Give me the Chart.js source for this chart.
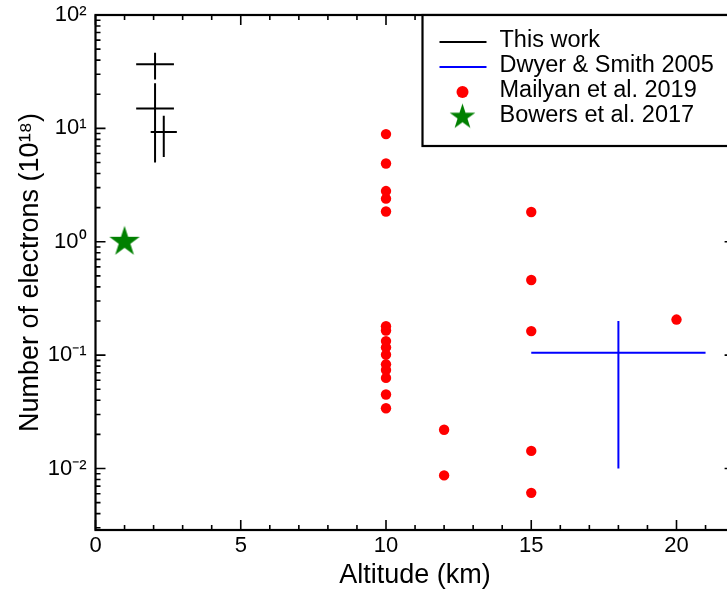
<!DOCTYPE html>
<html>
<head>
<meta charset="utf-8">
<script src="https://cdn.jsdelivr.net/npm/chart.js@4.4.0/dist/chart.umd.min.js"></script>
<style>
  html, body { margin: 0; padding: 0; background: #fff; overflow: hidden; }
  #chart { display: block; }
</style>
</head>
<body>
<canvas id="chart" width="745" height="593"></canvas>
<script>
// This work: centres and error bar ends
const thisX = [2.05, 2.05, 2.35];
const thisY = [36.7, 15, 9.3];
const thisXLo = [1.4, 1.4, 1.9];
const thisXHi = [2.7, 2.7, 2.8];
const thisYLo = [27, 5, 5.6];
const thisYHi = [46.5, 25, 12.9];

// Dwyer & Smith 2005
const dwyerX = [18];
const dwyerY = [0.105];
const dwyerXLo = [15];
const dwyerXHi = [21];
const dwyerYLo = [0.01];
const dwyerYHi = [0.2];

// Mailyan et al. 2019
const mailyanX = [10, 10, 10, 10, 10, 10, 10, 10, 10, 10, 10, 10, 10, 10, 10, 12, 12, 15, 15, 15, 15, 15, 20];
const mailyanY = [8.9, 4.9, 2.8, 2.4, 1.85, 0.18, 0.165, 0.133, 0.117, 0.101, 0.083, 0.074, 0.063, 0.045, 0.034,
                  0.022, 0.0087, 1.83, 0.46, 0.163, 0.0143, 0.0061, 0.206];

// Bowers et al. 2017
const bowersX = [1];
const bowersY = [1];

const xTicks = [0, 5, 10, 15, 20];
const yTicks = [1e-2, 1e-1, 1, 10, 100];
const yTickLabels = ['10⁻²', '10⁻¹', '10⁰', '10¹', '10²'];

const FONT = "'Liberation Sans', Arial, Helvetica, sans-serif";
Chart.defaults.font.family = FONT;
Chart.defaults.color = '#000';

function crossSegments(xs, ys, xlo, xhi, ylo, yhi) {
  const pts = [];
  for (let i = 0; i < xs.length; i++) {
    pts.push({x: xlo[i], y: ys[i]}, {x: xhi[i], y: ys[i]}, {x: null, y: null});
    pts.push({x: xs[i], y: ylo[i]}, {x: xs[i], y: yhi[i]}, {x: null, y: null});
  }
  return pts;
}

function makeStar(r, color) {
  const c = document.createElement('canvas');
  const s = Math.ceil(r * 2) + 2;
  c.width = s; c.height = s;
  const g = c.getContext('2d');
  g.fillStyle = color;
  g.beginPath();
  for (let k = 0; k < 10; k++) {
    const rad = k % 2 === 0 ? r : r * 0.382;
    const a = -Math.PI / 2 + k * Math.PI / 5;
    const px = s / 2 + rad * Math.cos(a), py = s / 2 + rad * Math.sin(a);
    if (k === 0) g.moveTo(px, py); else g.lineTo(px, py);
  }
  g.closePath();
  g.fill();
  return c;
}

const starBig = makeStar(16, '#008000');
const starSmall = makeStar(13.5, '#008000');

// inward ticks on every side + frame
const frameTicks = {
  id: 'frameTicks',
  afterDatasetsDraw(chart) {
    const {ctx, chartArea: a, scales: {x, y}} = chart;
    ctx.save();
    ctx.strokeStyle = '#000';
    ctx.lineWidth = 1.6;
    ctx.beginPath();
    for (let v = Math.ceil(x.min); v <= x.max; v++) {
      const px = x.getPixelForValue(v);
      const len = v % 5 === 0 ? 10 : 5;
      ctx.moveTo(px, a.bottom); ctx.lineTo(px, a.bottom - len);
      ctx.moveTo(px, a.top); ctx.lineTo(px, a.top + len);
    }
    for (let e = -3; e <= 2; e++) {
      for (let m = 1; m <= 9; m++) {
        const v = m * Math.pow(10, e);
        if (v < y.min || v > y.max * 1.0001) continue;
        const py = y.getPixelForValue(v);
        const len = m === 1 ? 10 : 5;
        ctx.moveTo(a.left, py); ctx.lineTo(a.left + len, py);
        ctx.moveTo(a.right, py); ctx.lineTo(a.right - len, py);
      }
    }
    ctx.stroke();
    ctx.lineWidth = 2.2;
    ctx.strokeRect(a.left, a.top, a.right - a.left, a.bottom - a.top);
    ctx.restore();
  }
};

// boxed legend in the upper right corner of the plot
const boxLegend = {
  id: 'boxLegend',
  afterDraw(chart) {
    const {ctx, chartArea: a} = chart;
    const x0 = a.left + 327, y0 = a.top, h = 131;
    ctx.save();
    ctx.fillStyle = '#fff';
    ctx.fillRect(x0, y0, a.right - x0 + 20, h);
    ctx.strokeStyle = '#000';
    ctx.lineWidth = 2.2;
    ctx.strokeRect(x0, y0, a.right - x0 + 20, h);
    ctx.font = '23.5px ' + FONT;
    ctx.textBaseline = 'middle';
    ctx.textAlign = 'left';
    chart.data.datasets.forEach((ds, i) => {
      const cy = y0 + 27 + i * 25;
      if (ds.showLine) {
        ctx.strokeStyle = ds.borderColor;
        ctx.lineWidth = 2;
        ctx.beginPath();
        ctx.moveTo(x0 + 17, cy); ctx.lineTo(x0 + 64, cy);
        ctx.stroke();
      } else if (ds.pointStyle === 'circle') {
        ctx.fillStyle = ds.backgroundColor;
        ctx.beginPath();
        ctx.arc(x0 + 40, cy, 6, 0, Math.PI * 2);
        ctx.fill();
      } else {
        ctx.drawImage(starSmall, x0 + 40 - starSmall.width / 2, cy - starSmall.height / 2);
      }
      ctx.fillStyle = '#000';
      ctx.fillText(ds.label, x0 + 77, cy - 1);
    });
    ctx.restore();
  }
};

new Chart(document.getElementById('chart'), {
  type: 'scatter',
  data: {
    datasets: [
      {
        label: 'This work',
        data: crossSegments(thisX, thisY, thisXLo, thisXHi, thisYLo, thisYHi),
        showLine: true, borderColor: '#000', borderWidth: 2, pointRadius: 0, spanGaps: false
      },
      {
        label: 'Dwyer & Smith 2005',
        data: crossSegments(dwyerX, dwyerY, dwyerXLo, dwyerXHi, dwyerYLo, dwyerYHi),
        showLine: true, borderColor: '#0000ff', borderWidth: 2, pointRadius: 0, spanGaps: false
      },
      {
        label: 'Mailyan et al. 2019',
        data: mailyanX.map((x, i) => ({x: x, y: mailyanY[i]})),
        pointStyle: 'circle', pointRadius: 5.2, borderWidth: 0,
        backgroundColor: '#ff0000', borderColor: '#ff0000'
      },
      {
        label: 'Bowers et al. 2017',
        data: bowersX.map((x, i) => ({x: x, y: bowersY[i]})),
        pointStyle: starBig, pointRadius: 16,
        backgroundColor: '#008000', borderColor: '#008000'
      }
    ]
  },
  options: {
    responsive: false,
    animation: false,
    events: [],
    layout: { autoPadding: false, padding: { top: 15, right: 10.4, left: 0, bottom: 0 } },
    plugins: { legend: { display: false }, tooltip: { enabled: false } },
    scales: {
      x: {
        type: 'linear', min: 0, max: 22,
        afterFit(s) { s.height = 63; s.paddingLeft = 0; s.paddingRight = 0; },
        afterBuildTicks(s) { s.ticks = xTicks.map(v => ({value: v})); },
        grid: { display: false, drawTicks: false },
        border: { display: false },
        ticks: { font: { size: 22 }, color: '#000', padding: 3, maxRotation: 0, autoSkip: false },
        title: { display: true, text: 'Altitude (km)', font: { size: 27 }, color: '#000', padding: { top: 0, bottom: 1 } }
      },
      y: {
        type: 'logarithmic', min: 0.00287, max: 100,
        afterFit(s) { s.width = 95.5; s.paddingTop = 0; s.paddingBottom = 0; },
        afterBuildTicks(s) { s.ticks = yTicks.map(v => ({value: v})); },
        grid: { display: false, drawTicks: false },
        border: { display: false },
        ticks: {
          font: { size: 22 }, color: '#000', padding: 9, autoSkip: false,
          callback: (v, i) => yTickLabels[i]
        },
        title: { display: true, text: 'Number of electrons (10¹⁸)', font: { size: 27 }, color: '#000', padding: { top: 14, bottom: 0 } }
      }
    }
  },
  plugins: [frameTicks, boxLegend]
});
</script>
</body>
</html>
